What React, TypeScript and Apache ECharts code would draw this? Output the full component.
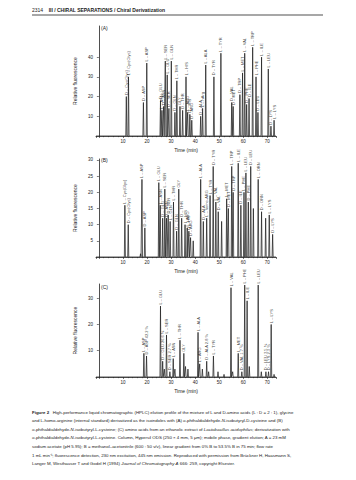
import React, { useEffect, useRef } from "react";
import * as echarts from "echarts";

// ---------- data ----------
const timeMin = -1.2;
const timeMax = 73.6;
const timeTickLabels = [10, 20, 30, 40, 50, 60, 70];

const aTimes = [11.4, 12.3, 18.5, 19.9, 25.6, 26.2, 26.9, 27.6, 28.4, 29.1, 30.1, 31.6, 32.4, 33.7, 34.8, 36.2, 36.9, 37.8, 38.6, 42.3, 43.1, 44.4, 47.8, 50.7, 55.2, 55.8, 58.6, 59.7, 60.6, 61.4, 62.4, 63.9, 65.3, 66.1, 67.6, 70.4, 71.5, 72.8];
const aHeights = [20, 30, 17, 37, 18, 13, 15, 38, 31, 14, 38, 12, 28, 15, 13, 30, 12, 11, 8, 10, 14, 36, 30, 42, 17, 15, 21, 32, 42, 16, 19, 45, 30, 12, 40, 34, 5, 8];
const aLabels = ["D – Cys(Glyc)", "L – Cys(Glyc)", "D – ASP", "L – ASP", "D – GLU", "L – ASN", "D – ASN", "L – SER", "L – GLU", "D – SER", "L – GLN", "D – GLN", "L – THR", "GLY", "D – THR", "L – HIS", "L – ARG", "D – HIS", "D – ARG", "D – ALA", "L – hArg", "L – ALA", "D – TYR", "L – TYR", "D – VAL", "D – MET", "D – TRP", "L – MET", "L – VAL", "D – PHE", "D – ILE", "L – TRP", "L – PHE", "D – LEU", "L – ILE", "L – LEU", "D – LYS", "L – LYS"];
const aYTickLabels = [10, 20, 30, 40];

const bTimes = [10.8, 12.2, 17.3, 17.9, 19.1, 24.9, 25.5, 26.5, 27.4, 28.1, 28.8, 29.6, 31.0, 32.3, 33.2, 34.4, 35.8, 36.7, 37.4, 38.1, 39.2, 42.3, 43.4, 44.8, 46.2, 47.5, 48.6, 49.6, 51.0, 53.1, 53.8, 55.2, 55.8, 57.9, 59.0, 60.3, 61.1, 62.1, 63.1, 64.2, 66.2, 67.6, 69.3, 70.8, 72.2];
const bHeights = [16, 10, 1, 24, 9, 23, 16, 12, 21, 12, 13, 11, 17, 8, 21, 12, 10, 9, 8, 6, 5, 24, 11, 12, 19, 28, 17, 14, 11, 18, 15, 28, 20, 29, 16, 20, 26, 17, 28, 15, 24, 14, 12, 13, 7];
const bLabels = ["L – Cys(Glyc)", "D – Cys(Glyc)", "", "L – ASP", "D – ASP", "L – GLU", "L – ASN", "D – GLU", "L – SER", "D – ASN", "D – SER", "L – GLN", "L – THR", "D – GLN", "GLY", "D – THR", "L – HIS", "L – ARG", "D – HIS", "D – ARG", "", "L – ALA", "D – ALA", "L – homo-ARG", "L – TYR", "D – TYR", "L – VAL", "D – VAL", "", "L – MET", "D – MET", "L – TRP", "D – TRP", "L – ILE", "D – ILE", "L – PHE", "L – LEU", "D – PHE", "D – LEU", "", "L – ORN", "D – ORN", "", "L – LYS", "D – LYS"];
const bYTickLabels = [5, 10, 15, 20, 25, 30];

const cTimes = [18.7, 19.8, 25.6, 26.5, 27.2, 28.1, 29.5, 30.9, 31.6, 33.7, 35.3, 36.0, 37.0, 41.2, 41.9, 43.0, 44.8, 45.6, 47.6, 49.5, 52.0, 54.9, 55.6, 57.9, 59.4, 60.6, 61.6, 62.5, 66.2, 67.5, 69.4, 70.5, 71.6, 72.8];
const cHeights = [9, 8, 27, 6, 3, 16, 2, 7, 3, 14, 9, 4, 3, 17, 5, 3, 6, 2, 8, 2, 1, 34, 2, 9, 2, 35, 29, 4, 35, 2, 2, 2, 20, 1];
const cLabels = ["L – ASP", "D – ASP 42.2 %", "L – GLU", "D – GLU 26.6 %", "", "L – SER", "D – SER 2.7 %", "L – ASN", "", "L – THR", "GLY", "", "", "L – ALA", "L – ARG", "", "D – ALA 2.8 %", "", "L – TYR", "", "", "L – VAL", "", "L – MET", "D – VAL 1.7 %", "L – PHE", "L – ILE", "", "L – LEU", "", "D – LEU 3.5 %", "D – LYS 2.3 %", "L – LYS", ""];
const cYTickLabels = [10, 20, 30];

const panelLetters = ["(A)", "(B)", "(C)"];
const yAxisTitle = "Relative fluorescence";
const xAxisTitle = "Time (min)";

const captionLines = [
  "{b|Figure 2}   High-performance liquid chromatographic (HPLC) elution profile of the mixture of L and D-amino acids (L : D = 2 : 1), glycine",
  "and L-homo-arginine (internal standard) derivatized as the isoindoles with (A) {i|o}-phthaldialdehyde-{i|N}-isobutyryl-D-cysteine and (B)",
  "{i|o}-phthaldialdehyde-{i|N}-isobutyryl-L-cysteine; (C) amino acids from an ethanolic extract of {i|Lactobacillus acidophilus}; derivatization with",
  "{i|o}-phthaldialdehyde-{i|N}-isobutyryl-L-cysteine. Column, Hypersil ODS (250 × 4 mm, 5 μm); mobile phase, gradient elution; A = 23 mM",
  "sodium acetate (pH 5.95); B = methanol–acetonitrile (600 : 50 v/v), linear gradient from 0% B to 53.5% B in 75 min; flow rate",
  "1 mL min⁻¹; fluorescence detection, 230 nm excitation, 445 nm emission. Reproduced with permission from Brückner H, Haasmann S,",
  "Langer M, Westhauser T and Godel H (1994) {i|Journal of Chromatography A} 666: 259, copyright Elsevier.",
];

// ---------- helpers ----------
const FONT = "'Liberation Sans', Arial, sans-serif";

function buildTrace(times: number[], heights: number[]) {
  const w = 0.22;
  const order = times.map((_, i) => i).sort((p, q) => times[p] - times[q]);
  const pts: number[][] = [[timeMin, 0]];
  order.forEach((i) => {
    pts.push([times[i] - w, 0], [times[i], heights[i]], [times[i] + w, 0]);
  });
  pts.push([timeMax, 0]);
  return pts;
}

function buildLabels(times: number[], heights: number[], labels: string[]) {
  return times
    .map((t, i) => ({ value: [t, heights[i]], name: labels[i] }))
    .filter((d) => d.name !== "");
}

const grids = [
  { left: 96, top: 26, width: 180, height: 110 },
  { left: 96, top: 159, width: 180, height: 98 },
  { left: 96, top: 284, width: 180, height: 93 },
];

export default function App() {
  const ref = useRef<HTMLDivElement>(null);
  useEffect(() => {
    if (!ref.current) return;
    const chart = echarts.init(ref.current, undefined, { renderer: "svg" });

    const panels = [
      { times: aTimes, heights: aHeights, labels: aLabels, yMax: 55.8, yTicks: aYTickLabels },
      { times: bTimes, heights: bHeights, labels: bLabels, yMax: 30.3, yTicks: bYTickLabels },
      { times: cTimes, heights: cHeights, labels: cLabels, yMax: 35.4, yTicks: cYTickLabels },
    ];

    const xAxes = panels.map((_, i) => ({
      type: "value",
      gridIndex: i,
      min: timeMin,
      max: timeMax,
      splitNumber: 7,
      name: xAxisTitle,
      nameLocation: "middle",
      nameGap: 11,
      nameTextStyle: { fontSize: 5, fontFamily: FONT, color: "#222" },
      axisLine: { lineStyle: { color: "#222", width: 0.8 } },
      axisTick: { show: true, length: 2, lineStyle: { color: "#222", width: 0.6 } },
      minorTick: { show: true, splitNumber: 5, length: 1.2, lineStyle: { color: "#222", width: 0.5 } },
      splitLine: { show: false },
      axisLabel: {
        fontSize: 4.5,
        fontFamily: FONT,
        color: "#222",
        margin: 3,
        formatter: (v: number) => (timeTickLabels.includes(Math.round(v * 1000) / 1000) ? String(v) : ""),
      },
    }));

    const yAxes = panels.map((p, i) => ({
      type: "value",
      gridIndex: i,
      min: 0,
      max: p.yMax,
      name: yAxisTitle,
      nameLocation: "middle",
      nameGap: 17,
      nameTextStyle: { fontSize: 5, fontFamily: FONT, color: "#222" },
      axisLine: { show: true, lineStyle: { color: "#222", width: 0.8 } },
      axisTick: { show: true, length: 2, customValues: p.yTicks, lineStyle: { color: "#222", width: 0.6 } },
      splitLine: { show: false },
      axisLabel: {
        fontSize: 4.5,
        fontFamily: FONT,
        color: "#222",
        margin: 3,
        customValues: p.yTicks,
      },
    }));

    const series: any[] = [];
    panels.forEach((p, i) => {
      series.push({
        type: "line",
        xAxisIndex: i,
        yAxisIndex: i,
        data: buildTrace(p.times, p.heights),
        symbol: "none",
        silent: true,
        lineStyle: { color: "#222", width: 0.75 },
      });
      series.push({
        type: "scatter",
        xAxisIndex: i,
        yAxisIndex: i,
        symbolSize: 0,
        silent: true,
        data: buildLabels(p.times, p.heights, p.labels),
        label: {
          show: true,
          formatter: "{b}",
          position: "top",
          distance: 1.5,
          rotate: 90,
          align: "left",
          verticalAlign: "middle",
          fontSize: 4,
          fontFamily: FONT,
          color: "#111",
        },
      });
    });

    const graphic: any[] = [
      {
        type: "text",
        left: 32,
        top: 7,
        style: {
          text: "2314    {b|III / CHIRAL SEPARATIONS / Chiral Derivatization}",
          fontSize: 5,
          fontFamily: FONT,
          fill: "#222",
          rich: { b: { fontSize: 5, fontWeight: "bold", fontFamily: FONT, fill: "#222" } },
        },
      },
      {
        type: "line",
        shape: { x1: 32, y1: 15, x2: 323, y2: 15 },
        style: { stroke: "#8a8a8a", lineWidth: 1.4 },
      },
    ];
    const letterTops = [25, 157, 284];
    grids.forEach((g, i) => {
      graphic.push({
        type: "text",
        left: g.left + 5,
        top: letterTops[i],
        style: { text: panelLetters[i], fontSize: 5, fontFamily: FONT, fill: "#222" },
      });
    });
    captionLines.forEach((line, i) => {
      graphic.push({
        type: "text",
        left: 32,
        top: 410 + i * 8.6,
        style: {
          text: line,
          fontSize: 4.4,
          fontFamily: FONT,
          fill: "#222",
          rich: {
            b: { fontSize: 4.4, fontWeight: "bold", fontFamily: FONT, fill: "#222" },
            i: { fontSize: 4.4, fontStyle: "italic", fontFamily: FONT, fill: "#222" },
          },
        },
      });
    });

    chart.setOption({
      animation: false,
      backgroundColor: "#ffffff",
      grid: grids,
      xAxis: xAxes,
      yAxis: yAxes,
      series,
      graphic,
    });
    return () => chart.dispose();
  }, []);

  return (
    <div
      ref={ref}
      style={{ width: 356, height: 480, position: "absolute", left: 0, top: 0, background: "#fff" }}
    />
  );
}
